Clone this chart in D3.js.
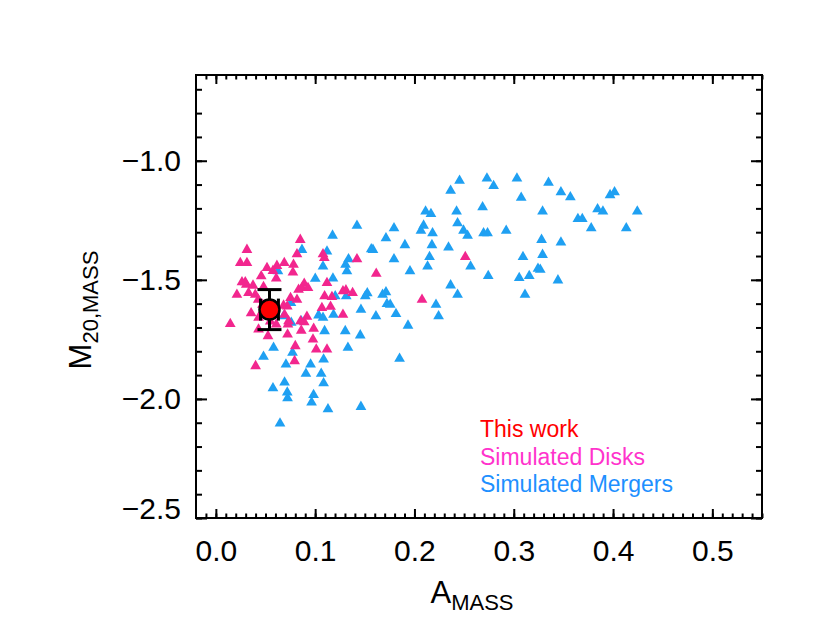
<!DOCTYPE html>
<html>
<head>
<meta charset="utf-8">
<script src="https://cdn.jsdelivr.net/npm/d3@7"></script>
<style>
  body { margin: 0; background: #fff; }
  text { font-family: "Liberation Sans", Arial, Helvetica, sans-serif; }
</style>
</head>
<body>
<div id="chart"></div>
<script>
var width = 830;
var height = 623;

// simulated mergers (A_MASS, M20_MASS)
var mergerA = [0.335, 0.3475, 0.357, 0.397, 0.4015, 0.329, 0.3646, 0.369, 0.3844, 0.3898,
  0.4244, 0.378, 0.4133, 0.328, 0.3475, 0.329, 0.3267, 0.3445, 0.2454, 0.2364,
  0.273, 0.2797, 0.3032, 0.3075, 0.2686, 0.2424, 0.2112, 0.2166, 0.2434, 0.2092,
  0.2065, 0.2182, 0.2494, 0.2535, 0.2696, 0.2736, 0.2924, 0.1794, 0.1713, 0.1904,
  0.2176, 0.2343, 0.1582, 0.3093, 0.2152, 0.1794, 0.2565, 0.2132, 0.3244, 0.1955,
  0.2743, 0.3055, 0.3156, 0.2364, 0.1713, 0.1679, 0.1525, 0.2434, 0.3113, 0.2217,
  0.1723, 0.1756, 0.1612, 0.1814, 0.2243, 0.1935, 0.185, 0.1421, 0.1175, 0.0867,
  0.1565, 0.1119, 0.1336, 0.1306, 0.0625, 0.1079, 0.132, 0.1001, 0.1179, 0.1505,
  0.1313, 0.1202, 0.0756, 0.1461, 0.1185, 0.1034, 0.1079, 0.0682, 0.086, 0.1095,
  0.1303, 0.1454, 0.0581, 0.0772, 0.133, 0.048, 0.0706, 0.0954, 0.1085, 0.0907,
  0.1061, 0.0692, 0.1085, 0.0575, 0.0719, 0.0722, 0.0984, 0.0964, 0.1129, 0.1461,
  0.0646, 0.0759];
var mergerM20 = [-1.092, -1.132, -1.153, -1.144, -1.132, -1.213, -1.244, -1.244, -1.203, -1.213,
  -1.213, -1.283, -1.283, -1.332, -1.343, -1.395, -1.457, -1.502, -1.084, -1.126,
  -1.074, -1.106, -1.074, -1.155, -1.195, -1.213, -1.213, -1.223, -1.262, -1.272,
  -1.294, -1.304, -1.293, -1.315, -1.304, -1.304, -1.294, -1.283, -1.325, -1.354,
  -1.354, -1.364, -1.374, -1.404, -1.404, -1.413, -1.444, -1.444, -1.453, -1.464,
  -1.484, -1.492, -1.484, -1.523, -1.552, -1.562, -1.556, -1.562, -1.562, -1.604,
  -1.601, -1.604, -1.653, -1.643, -1.653, -1.692, -1.831, -1.273, -1.314, -1.374,
  -1.371, -1.381, -1.413, -1.436, -1.464, -1.444, -1.464, -1.495, -1.494, -1.569,
  -1.569, -1.569, -1.597, -1.625, -1.646, -1.649, -1.659, -1.653, -1.674, -1.715,
  -1.715, -1.733, -1.785, -1.806, -1.785, -1.823, -1.855, -1.855, -1.834, -1.894,
  -1.894, -1.931, -1.934, -1.955, -1.973, -1.997, -1.983, -2.015, -2.043, -2.033,
  -2.103, -1.68];

// simulated disks
var diskA = [0.085, 0.0313, 0.0817, 0.1079, 0.1092, 0.1421, 0.0246, 0.0313, 0.0689, 0.0782,
  0.0615, 0.0515, 0.1615, 0.0457, 0.0608, 0.0263, 0.0306, 0.0374, 0.048, 0.089,
  0.1119, 0.0867, 0.0833, 0.0212, 0.0329, 0.0397, 0.131, 0.1377, 0.1095, 0.1169,
  0.0817, 0.0752, 0.0682, 0.0719, 0.1068, 0.1155, 0.128, 0.0145, 0.043, 0.0732,
  0.0917, 0.0853, 0.0525, 0.0722, 0.086, 0.0978, 0.1011, 0.1119, 0.08, 0.0793,
  0.04, 0.2512, 0.2076, 0.0928, 0.047, 0.0427, 0.0548, 0.0776, 0.089, 0.0692,
  0.0726, 0.128, 0.0296, 0.0608, 0.043, 0.0355, 0.0575, 0.0985];
var diskM20 = [-1.332, -1.374, -1.392, -1.392, -1.408, -1.413, -1.429, -1.429, -1.429, -1.436,
  -1.441, -1.45, -1.474, -1.485, -1.494, -1.51, -1.52, -1.524, -1.53, -1.516,
  -1.513, -1.534, -1.541, -1.562, -1.555, -1.562, -1.544, -1.555, -1.569, -1.572,
  -1.583, -1.576, -1.608, -1.612, -1.618, -1.613, -1.646, -1.685, -1.659, -1.674,
  -1.655, -1.674, -1.736, -1.729, -1.713, -1.75, -1.792, -1.792, -1.778, -1.841,
  -1.862, -1.404, -1.583, -1.534, -1.604, -1.583, -1.675, -1.469, -1.678, -1.646,
  -1.687, -1.548, -1.51, -1.687, -1.708, -1.64, -1.462, -1.705];

// this work
var workA = [0.054];
var workM20 = [-1.625];
var workAErr = [0.009];
var workM20Err = [0.084];

var xTicks = [0.0, 0.1, 0.2, 0.3, 0.4, 0.5];
var yTicks = [-1.0, -1.5, -2.0, -2.5];
var legendLabels = ["This work", "Simulated Disks", "Simulated Mergers"];
var legendColors = ["#ff0000", "#ff33cc", "#1e90ff"];

var pLeft = 196, pRight = 762, pTop = 75, pBottom = 518;

var svg = d3.select("#chart").append("svg")
  .attr("width", width)
  .attr("height", height)

var x = d3.scaleLinear().domain([-0.02, 0.55]).range([pLeft, pRight])
var y = d3.scaleLinear().domain([-2.5, -0.64]).range([pBottom, pTop])

var xMinor = d3.range(-1, 56).map(function(i) { return i / 100 })
var yMinor = d3.range(-25, -6).map(function(i) { return i / 10 })

function noDomain(g) { g.select(".domain").remove() }

// minor ticks on all four sides
svg.append("g").attr("transform", "translate(0," + pBottom + ")")
  .call(d3.axisBottom(x).tickValues(xMinor).tickSize(-4.5).tickFormat("")).call(noDomain)
svg.append("g").attr("transform", "translate(0," + pTop + ")")
  .call(d3.axisTop(x).tickValues(xMinor).tickSize(-4.5).tickFormat("")).call(noDomain)
svg.append("g").attr("transform", "translate(" + pLeft + ",0)")
  .call(d3.axisLeft(y).tickValues(yMinor).tickSize(-6).tickFormat("")).call(noDomain)
svg.append("g").attr("transform", "translate(" + pRight + ",0)")
  .call(d3.axisRight(y).tickValues(yMinor).tickSize(-6).tickFormat("")).call(noDomain)

// major ticks + labels
var fmtX = d3.format(".1f")
var fmtY = function(d) { return d3.format(".1f")(d).replace("-", "\u2212") }

svg.append("g").attr("transform", "translate(0," + pBottom + ")")
  .call(d3.axisBottom(x).tickValues(xTicks).tickSizeInner(-9).tickSizeOuter(0)
    .tickPadding(22).tickFormat(fmtX)).call(noDomain)
svg.append("g").attr("transform", "translate(0," + pTop + ")")
  .call(d3.axisTop(x).tickValues(xTicks).tickSize(-9).tickFormat("")).call(noDomain)
var yAxis = svg.append("g").attr("transform", "translate(" + pLeft + ",0)")
  .call(d3.axisLeft(y).tickValues(yTicks).tickSizeInner(-11).tickSizeOuter(0)
    .tickPadding(15).tickFormat(fmtY)).call(noDomain)
svg.append("g").attr("transform", "translate(" + pRight + ",0)")
  .call(d3.axisRight(y).tickValues(yTicks).tickSize(-11).tickFormat("")).call(noDomain)

svg.selectAll(".tick line").attr("stroke", "#000").attr("stroke-width", 2)
svg.selectAll(".tick text").attr("fill", "#000").attr("font-size", "30px")
  .attr("font-family", '"Liberation Sans", Arial, sans-serif')
// bottom label sits raised above the corner
yAxis.selectAll(".tick text").filter(function(d) { return d === -2.5 })
  .attr("dy", "0")

// frame
svg.append("rect")
  .attr("x", pLeft).attr("y", pTop)
  .attr("width", pRight - pLeft).attr("height", pBottom - pTop)
  .attr("fill", "none").attr("stroke", "#000").attr("stroke-width", 2)

var tri = d3.symbol().type(d3.symbolTriangle).size(50)

var mergers = mergerA.map(function(a, i) { return { a: a, m: mergerM20[i] } })
var disks = diskA.map(function(a, i) { return { a: a, m: diskM20[i] } })

svg.append("g").selectAll("path")
  .data(mergers)
  .enter().append("path")
  .attr("d", tri)
  .attr("transform", function(d) { return "translate(" + x(d.a) + "," + y(d.m) + ")" })
  .attr("fill", "#1fa0f2")

svg.append("g").selectAll("path")
  .data(disks)
  .enter().append("path")
  .attr("d", tri)
  .attr("transform", function(d) { return "translate(" + x(d.a) + "," + y(d.m) + ")" })
  .attr("fill", "#f2268e")

// this work, with error bars
var work = workA.map(function(a, i) {
  return { a: a, m: workM20[i], ea: workAErr[i], em: workM20Err[i] }
})
var wg = svg.append("g").selectAll("g").data(work).enter().append("g")
  .attr("stroke", "#000").attr("stroke-width", 3)
wg.append("line")
  .attr("x1", function(d) { return x(d.a) }).attr("x2", function(d) { return x(d.a) })
  .attr("y1", function(d) { return y(d.m - d.em) }).attr("y2", function(d) { return y(d.m + d.em) })
wg.each(function(d) {
  var g = d3.select(this)
  ;[d.m - d.em, d.m + d.em].forEach(function(v) {
    g.append("line")
      .attr("x1", x(d.a) - 12).attr("x2", x(d.a) + 12)
      .attr("y1", y(v)).attr("y2", y(v))
  })
  g.append("line")
    .attr("x1", x(d.a - d.ea)).attr("x2", x(d.a + d.ea))
    .attr("y1", y(d.m)).attr("y2", y(d.m))
  ;[d.a - d.ea, d.a + d.ea].forEach(function(v) {
    g.append("line")
      .attr("x1", x(v)).attr("x2", x(v))
      .attr("y1", y(d.m) - 11).attr("y2", y(d.m) + 11)
  })
})
wg.append("circle")
  .attr("cx", function(d) { return x(d.a) })
  .attr("cy", function(d) { return y(d.m) })
  .attr("r", 10)
  .attr("fill", "#ff0000")
  .attr("stroke-width", 2.5)

// legend
svg.append("g").selectAll("text")
  .data(legendLabels)
  .enter().append("text")
  .attr("x", 480)
  .attr("y", function(d, i) { return 437 + i * 27.5 })
  .attr("font-size", "23px")
  .attr("fill", function(d, i) { return legendColors[i] })
  .text(function(d) { return d })

// axis titles
var xt = svg.append("text")
  .attr("x", 472).attr("y", 603)
  .attr("text-anchor", "middle")
  .attr("font-size", "31px")
xt.append("tspan").text("A")
xt.append("tspan").attr("font-size", "22px").attr("dy", 7).text("MASS")

var yt = svg.append("text")
  .attr("transform", "translate(91,310) rotate(-90)")
  .attr("text-anchor", "middle")
  .attr("font-size", "31px")
yt.append("tspan").text("M")
yt.append("tspan").attr("font-size", "22px").attr("dy", 7).text("20,MASS")
</script>
</body>
</html>
